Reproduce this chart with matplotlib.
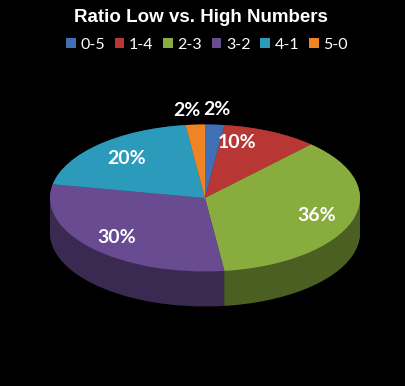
import matplotlib
matplotlib.use("Agg")
import matplotlib.pyplot as plt
import numpy as np
from matplotlib.patches import Patch
from matplotlib.colors import to_rgb

# data
categories = ["0-5", "1-4", "2-3", "3-2", "4-1", "5-0"]
values = [2, 10, 36, 30, 20, 2]
labels = ["2%", "10%", "36%", "30%", "20%", "2%"]

top_colors = ["#3f6fb5", "#b83735", "#88ac3d", "#694b92", "#2c9bbb", "#ee8424"]
# label placement: radius and angle nudge (deg)
label_radius = [1.2, 0.78, 0.76, 0.78, 0.74, 1.2]
label_shift = [0, 10, 0, 0, 0, 2]


def darker(c, f):
    r, g, b = to_rgb(c)
    return (r * f, g * f, b * f)


W, H = 405, 386
cx, cy = 205, 198      # pie centre in pixels (from top)
rx, ry = 155, 73.5     # ellipse radii in pixels
depth_px = 35

fig = plt.figure(figsize=(W / 100, H / 100), dpi=100, facecolor="black")
ax = fig.add_axes([0, 0, 1, 1])
ax.set_facecolor("black")

depth = depth_px / ry
n_layers = 40
side_colors = [darker(c, 0.55) for c in top_colors]
for k in range(n_layers):
    off = depth * (1 - k / (n_layers - 1))
    ax.pie(values, colors=side_colors, startangle=90, counterclock=False,
           center=(0, -off), wedgeprops=dict(linewidth=0))

wedges, _ = ax.pie(values, colors=top_colors, startangle=90, counterclock=False,
                   wedgeprops=dict(linewidth=0))

for w, lab, r, s in zip(wedges, labels, label_radius, label_shift):
    mid = np.deg2rad((w.theta1 + w.theta2) / 2 + s)
    ax.text(r * np.cos(mid), r * np.sin(mid), lab, ha="center", va="center",
            color="white", fontsize=14, fontweight="bold", family="Lato")

ax.set_aspect("auto")
ax.set_xlim(-cx / rx, (W - cx) / rx)
ax.set_ylim(-(H - cy) / ry, cy / ry)
ax.axis("off")

fig.text(201 / W, 1 - 17 / H, "Ratio Low vs. High Numbers", ha="center", va="center",
         color="white", fontsize=13.5, fontweight="bold", family="Liberation Sans")

handles = [Patch(facecolor=c, edgecolor="none") for c in top_colors]
fig.legend(handles, categories, loc="center", bbox_to_anchor=(207 / W, 1 - 45 / H),
           ncol=6, frameon=False, labelcolor="white", handlelength=0.6,
           handleheight=0.6, handletextpad=0.3, columnspacing=0.6,
           prop={"family": "Lato", "size": 11.5})

fig.savefig("out.png", dpi=100, facecolor="black")
